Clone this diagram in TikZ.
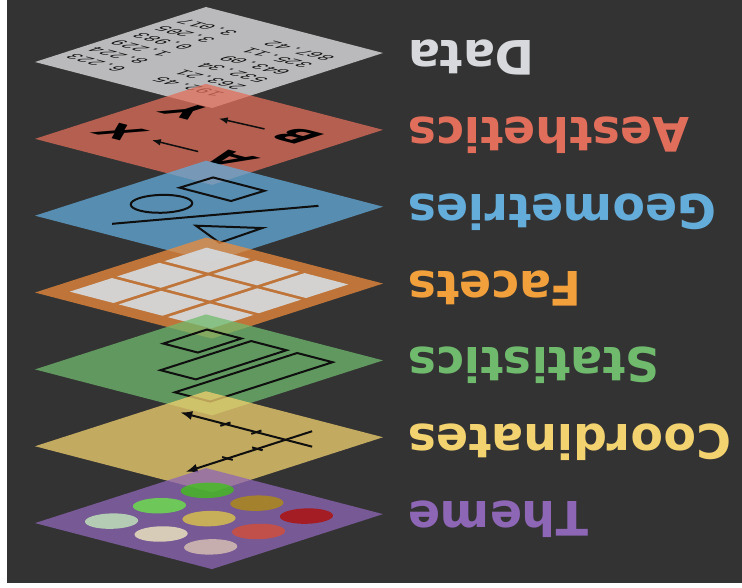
\documentclass[tikz,border=0pt]{standalone}
\usepackage{fontspec}
\setmainfont{DejaVu Sans}
\setmonofont{Liberation Mono}
\usetikzlibrary{arrows.meta}
\definecolor{bg}{RGB}{51,51,51}
\definecolor{c1}{RGB}{232,232,234}
\definecolor{c2}{RGB}{224,110,90}
\definecolor{c3}{RGB}{100,172,218}
\definecolor{c4}{RGB}{238,140,60}
\definecolor{c5}{RGB}{112,186,110}
\definecolor{c6}{RGB}{243,210,112}
\definecolor{c7}{RGB}{142,102,182}
\definecolor{k1}{RGB}{215,217,220}
\definecolor{k4}{RGB}{242,160,60}
\definecolor{ink}{RGB}{15,15,15}
\definecolor{cell}{RGB}{214,218,222}
\definecolor{p1}{RGB}{61,197,20}
\definecolor{p2}{RGB}{107,237,70}
\definecolor{p3}{RGB}{180,143,10}
\definecolor{p4}{RGB}{200,243,190}
\definecolor{p5}{RGB}{227,203,70}
\definecolor{p6}{RGB}{180,10,0}
\definecolor{p7}{RGB}{247,243,197}
\definecolor{p8}{RGB}{220,77,50}
\definecolor{p9}{RGB}{227,203,183}
\tikzset{
  plane/.style={shift={(35,#1)},cm={1.71,0.55,-1.77,0.46,(0,0)}},
  sheet/.style={fill=#1,fill opacity=0.75},
  layername/.style={text=#1,anchor=base east,rotate=180,inner sep=0pt,
    font=\fontsize{47.5}{50}\selectfont\bfseries},
  onplane/.style={transform shape,rotate=90,inner sep=1pt},
  numbers/.style={onplane,text=ink,align=right,font=\ttfamily\fontsize{10}{13}\selectfont},
  letter/.style={onplane,inner xsep=8pt,font=\fontsize{24}{26}\selectfont\bfseries},
  outline/.style={draw=ink,line width=2pt},
  dot/.style={fill=#1,fill opacity=0.75},
  tip/.style={-{Latex[length=#1,width=0.75*#1]}},
}
\begin{document}
\begin{tikzpicture}[x=1pt,y=-1pt]
    \useasboundingbox (0,0) rectangle (742,588);
    \fill[white] (0,0) rectangle (742,588);
    \fill[bg] (7,0) rectangle (742,582.5);
    % data
    \begin{scope}[plane=62]
        \fill[sheet=c1] (0,0) -- (100,0) -- (100,100) -- (0,100) -- cycle;
        \node[numbers] (col1) at (47.5,72)
            {192.45\\263.21\\532.34\\643.09\\325.11\\867.42};
        \node[numbers] (col2) at (47.5,20)
            {6.223\\8.224\\1.229\\0.983\\3.205\\3.017};
    \end{scope}
    % aesthetics
    \begin{scope}[plane=138.85]
        \fill[sheet=c2] (0,0) -- (100,0) -- (100,100) -- (0,100) -- cycle;
        \node[letter] (A) at (30.3,80.8) {A};
        \node[letter] (X) at (28.8,20.3) {X};
        \node[letter] (B) at (71,79.4) {B};
        \node[letter] (Y) at (67.4,20.8) {Y};
        \draw[ink,line width=1.5pt,tip=9pt] (A) -- (X);
        \draw[ink,line width=1.5pt,tip=9pt] (B) -- (Y);
    \end{scope}
    % geometries
    \begin{scope}[plane=215.7]
        \fill[sheet=c3] (0,0) -- (100,0) -- (100,100) -- (0,100) -- cycle;
        \draw[outline] (66,18) -- (85,18.5) -- (85,47.5) -- (66,47) -- cycle;
        \draw[outline] (45,28) circle[radius=12.5];
        \draw[outline] (12,32) -- (84,79);
        \draw[outline] (32,60) -- (47,83) -- (21,84) -- cycle;
    \end{scope}
    % facets
    \begin{scope}[plane=292.55]
        \fill[sheet=c4] (0,0) -- (100,0) -- (100,100) -- (0,100) -- cycle;
        \foreach \i in {0,1,2}
            \foreach \j in {0,1,2}
                \fill[cell,fill opacity=0.92]
                    ({10+27.67*\i},{10+27.67*\j}) -- ++(24.67,0) -- ++(0,24.67) -- ++(-24.67,0) -- cycle;
    \end{scope}
    % statistics
    \begin{scope}[plane=369.4]
        \fill[sheet=c5] (0,0) -- (100,0) -- (100,100) -- (0,100) -- cycle;
        \draw[outline] (85,15) -- (59.5,15) -- (59.5,34.5) -- (85,34.5) -- cycle;
        \draw[outline] (85,40) -- (32,40) -- (32,60) -- (85,60) -- cycle;
        \draw[outline] (85,66) -- (13.5,66) -- (13.5,86) -- (85,86) -- cycle;
    \end{scope}
    % coordinates
    \begin{scope}[plane=446.25]
        \fill[sheet=c6] (0,0) -- (100,0) -- (100,100) -- (0,100) -- cycle;
        \coordinate (O1) at (72,87);
        \coordinate (O2) at (87.5,72);
        \coordinate (E1) at (72,12.5);
        \coordinate (E2) at (13.5,72);
        \draw[outline,tip=12pt] (O1) -- (E1);
        \draw[outline,tip=12pt] (O2) -- (E2);
        \foreach \t in {55.5,38}
        {
            \draw[outline] (69,\t) -- (75,\t);
            \draw[outline] (\t,69) -- (\t,75);
        }
    \end{scope}
    % theme
    \begin{scope}[plane=523.1]
        \fill[sheet=c7] (0,0) -- (100,0) -- (100,100) -- (0,100) -- cycle;
        \fill[dot=p1] (78,22) circle[radius=10.8];
        \fill[dot=p2] (50,22) circle[radius=10.8];
        \fill[dot=p3] (78,50) circle[radius=10.8];
        \fill[dot=p4] (22,22) circle[radius=10.8];
        \fill[dot=p5] (50,50) circle[radius=10.8];
        \fill[dot=p6] (78,78) circle[radius=10.8];
        \fill[dot=p7] (22,50) circle[radius=10.8];
        \fill[dot=p8] (50,78) circle[radius=10.8];
        \fill[dot=p9] (22,78) circle[radius=10.8];
    \end{scope}
    % names, upside down
    \node[layername=k1] (n1) at (408,40.5) {Data};
    \node[layername=c2] (n2) at (408,117.35) {Aesthetics};
    \node[layername=c3] (n3) at (408,194.2) {Geometries};
    \node[layername=k4] (n4) at (408,271.05) {Facets};
    \node[layername=c5] (n5) at (408,347.9) {Statistics};
    \node[layername=c6] (n6) at (408,424.75) {Coordinates};
    \node[layername=c7] (n7) at (408,501.6) {Theme};
\end{tikzpicture}
\end{document}
